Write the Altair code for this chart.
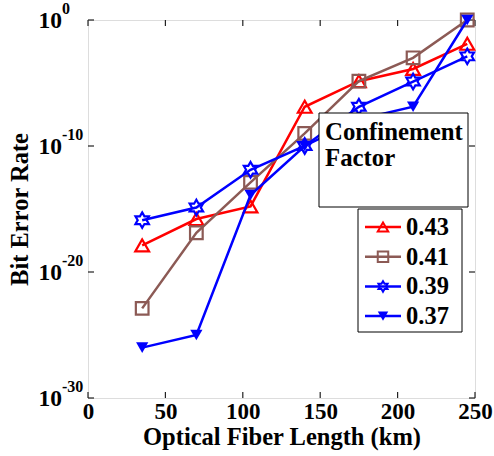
import altair as alt
import pandas as pd

# ---- data ----
fiber_km = [35, 70, 105, 140, 175, 210, 245]
ber_043 = [1.3e-18, 1.6e-16, 1.6e-15, 1.3e-7, 1.4e-5, 1.3e-4, 1.3e-2]
ber_041 = [1.3e-23, 1.3e-17, 1.3e-13, 1.0e-9, 1.4e-5, 1.0e-3, 1.0]
ber_039 = [1.3e-16, 1.3e-15, 1.3e-12, 1.0e-10, 1.3e-7, 1.3e-5, 1.3e-3]
ber_037 = [1.0e-26, 1.0e-25, 1.3e-14, 1.0e-10, 1.3e-8, 1.3e-7, 1.0]

series_names = ["0.43", "0.41", "0.39", "0.37"]
series_values = [ber_043, ber_041, ber_039, ber_037]
series_colors = ["#ff0000", "#8c5a55", "#0000ff", "#0000ff"]

HEX = ("M0,-1L0.289,-0.5L0.866,-0.5L0.577,0L0.866,0.5L0.289,0.5L0,1"
       "L-0.289,0.5L-0.866,0.5L-0.577,0L-0.866,-0.5L-0.289,-0.5Z")
series_shapes = ["triangle-up", "square", HEX, "triangle-down"]
series_filled = [False, False, False, True]
series_sizes = [190, 160, 240, 150]

x_ticks = [0, 50, 100, 150, 200, 250]
y_ticks = [1.0, 1e-10, 1e-20, 1e-30]
y_tick_exp = ["0", "-10", "-20", "-30"]

FONT = "'Liberation Serif', 'Times New Roman', Times, serif"
W, H = 387, 378

xscale = alt.Scale(domain=[0, 250], nice=False, zero=False)
yscale = alt.Scale(type="log", domain=[1e-30, 1], nice=False)

layers = []

# axis holder (x labels + titles)
axis_df = pd.DataFrame({"x": [0, 250], "y": [1e-30, 1.0]})
axis_layer = alt.Chart(axis_df).mark_point(opacity=0).encode(
    x=alt.X("x:Q", scale=xscale, axis=alt.Axis(
        values=x_ticks, ticks=False, domain=False, grid=False,
        labelFont=FONT, labelFontSize=23, labelFontWeight="bold", labelColor="black",
        labelPadding=2, labelFlush=False,
        title="Optical Fiber Length (km)", titleFont=FONT, titleFontSize=24.5,
        titleFontWeight="bold", titleColor="black",
        titleBaseline="alphabetic", titleY=46, titleX=W / 2)),
    y=alt.Y("y:Q", scale=yscale, axis=alt.Axis(
        labels=False, ticks=False, domain=False, grid=False,
        title="Bit Error Rate", titleFont=FONT, titleFontSize=24.5,
        titleFontWeight="bold", titleColor="black",
        titleBaseline="alphabetic", titleX=-61, titleY=H / 2, titleAngle=-90)),
)
layers.append(axis_layer)

# inward ticks on all four sides
xt = pd.DataFrame({"t": x_ticks})
yt = pd.DataFrame({"t": y_ticks})
tick_style = dict(color="#222222", strokeWidth=1.2)
layers.append(alt.Chart(xt).mark_rule(**tick_style).encode(
    x=alt.X("t:Q", scale=xscale), y=alt.value(H), y2=alt.value(H - 6)))
layers.append(alt.Chart(xt).mark_rule(**tick_style).encode(
    x=alt.X("t:Q", scale=xscale), y=alt.value(0), y2=alt.value(6)))
layers.append(alt.Chart(yt).mark_rule(**tick_style).encode(
    y=alt.Y("t:Q", scale=yscale), x=alt.value(0), x2=alt.value(6)))
layers.append(alt.Chart(yt).mark_rule(**tick_style).encode(
    y=alt.Y("t:Q", scale=yscale), x=alt.value(W), x2=alt.value(W - 6)))

# y tick labels as 10 with exponent
ylab = pd.DataFrame({"v": y_ticks, "base": ["10"] * 4, "exp": y_tick_exp})
layers.append(alt.Chart(ylab).mark_text(
    align="right", baseline="middle", font=FONT, fontSize=23.5, fontWeight="bold",
    color="black", dy=1).encode(
    y=alt.Y("v:Q", scale=yscale), x=alt.value(-26), text="base:N"))
layers.append(alt.Chart(ylab).mark_text(
    align="left", baseline="middle", font=FONT, fontSize=16, fontWeight="bold",
    color="black", dy=-11).encode(
    y=alt.Y("v:Q", scale=yscale), x=alt.value(-26), text="exp:N"))

# data series
for name, vals, col, shp, fil, sz in zip(series_names, series_values, series_colors,
                                         series_shapes, series_filled, series_sizes):
    df = pd.DataFrame({"km": fiber_km, "ber": vals})
    base = alt.Chart(df).encode(x=alt.X("km:Q", scale=xscale), y=alt.Y("ber:Q", scale=yscale))
    layers.append(base.mark_line(color=col, strokeWidth=2.5))
    layers.append(base.mark_point(shape=shp, filled=fil, color=col, size=sz,
                                  strokeWidth=2.2, opacity=1))

# legend title box
layers.append(alt.Chart(pd.DataFrame({"a": [0]})).mark_rect(
    fill="white", stroke="black", strokeWidth=1).encode(
    x=alt.value(231), x2=alt.value(380), y=alt.value(93), y2=alt.value(187)))
for i, t in enumerate(["Confinement", "Factor"]):
    layers.append(alt.Chart(pd.DataFrame({"txt": [t]})).mark_text(
        align="left", baseline="alphabetic", font=FONT, fontSize=24.8, fontWeight="bold",
        color="black").encode(x=alt.value(237), y=alt.value(120 + 26 * i), text="txt:N"))

# legend entries box
layers.append(alt.Chart(pd.DataFrame({"a": [0]})).mark_rect(
    fill="white", stroke="black", strokeWidth=1).encode(
    x=alt.value(270), x2=alt.value(374), y=alt.value(189), y2=alt.value(312)))
for i, (name, col, shp, fil) in enumerate(zip(series_names, series_colors,
                                              series_shapes, series_filled)):
    yc = 207 + 29.7 * i
    one = pd.DataFrame({"txt": [name]})
    layers.append(alt.Chart(one).mark_rule(color=col, strokeWidth=2.5).encode(
        x=alt.value(277), x2=alt.value(313), y=alt.value(yc)))
    layers.append(alt.Chart(one).mark_point(shape=shp, filled=fil, color=col, size=110,
                                            strokeWidth=2, opacity=1).encode(
        x=alt.value(295), y=alt.value(yc)))
    layers.append(alt.Chart(one).mark_text(
        align="left", baseline="alphabetic", font=FONT, fontSize=24.5, fontWeight="bold",
        color="black").encode(x=alt.value(318), y=alt.value(yc + 8), text="txt:N"))

chart = alt.layer(*layers).properties(
    width=W, height=H,
    autosize=alt.AutoSizeParams(type="none"),
    padding={"left": 88, "top": 20, "right": 19, "bottom": 58},
).configure_view(stroke="#222222", strokeWidth=1.5).configure(background="white")

chart.save("out.html", embed_options={"renderer": "svg", "actions": False})
